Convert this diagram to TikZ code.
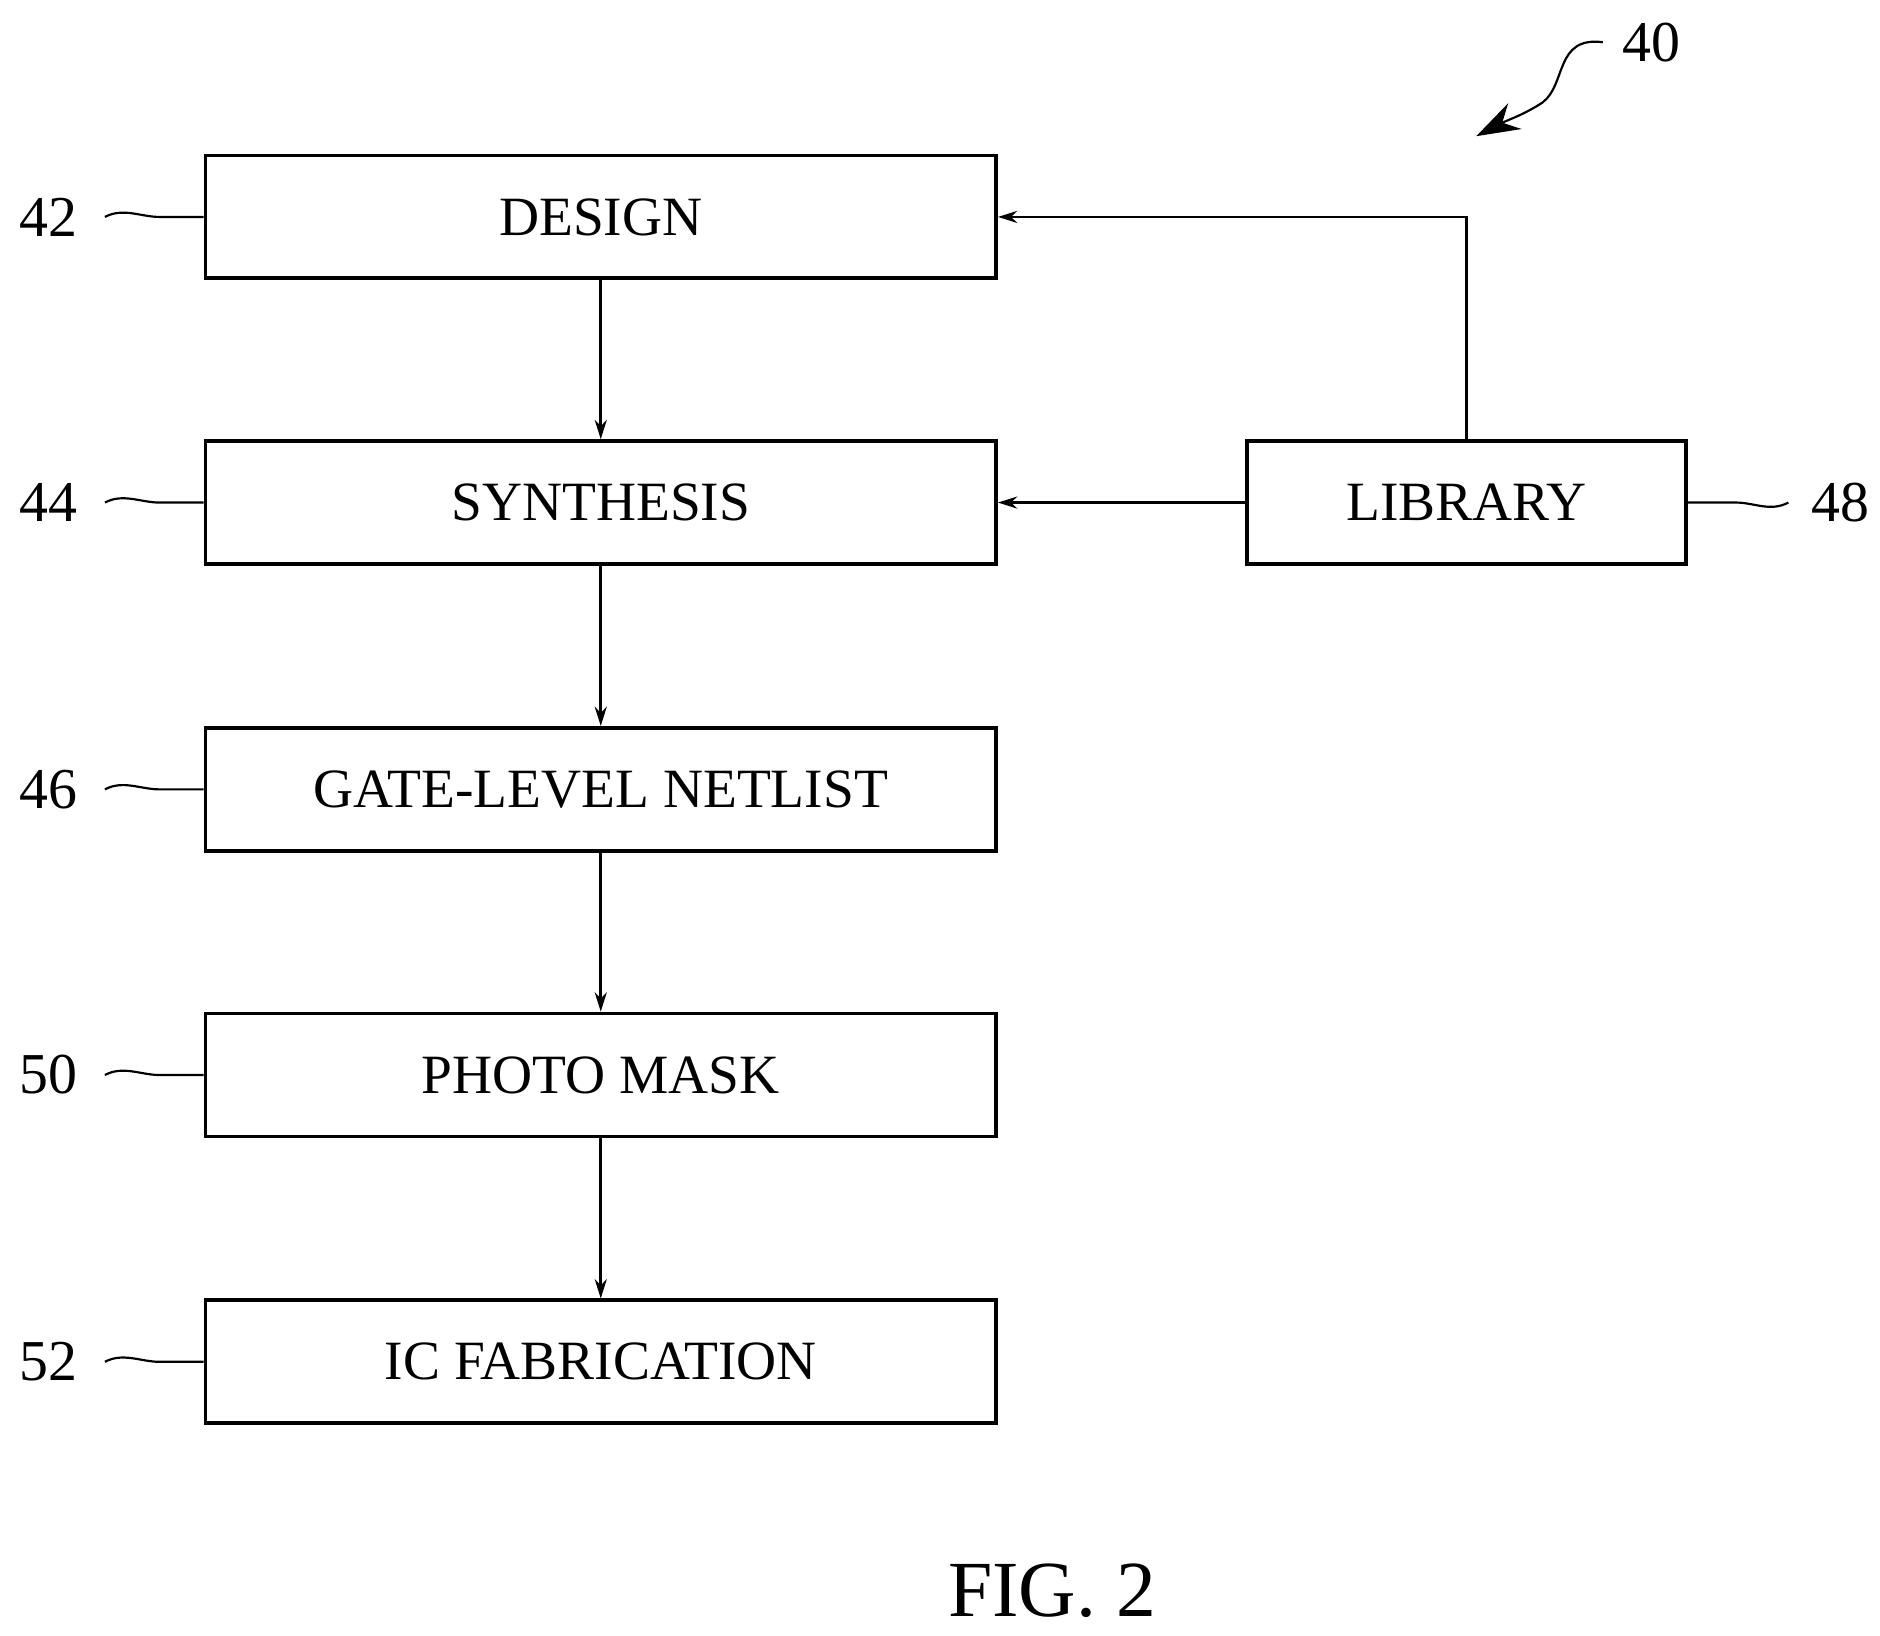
\documentclass[tikz,border=0pt]{standalone}
\usepackage{fontspec}
\setmainfont{Liberation Serif}
\usetikzlibrary{arrows.meta,calc}
\begin{document}
\begin{tikzpicture}[x=0.5pt,y=-0.5pt,
 box/.style={draw,line width=1.6pt,minimum width=328pt,minimum height=51pt,inner sep=0pt,font=\fontsize{23}{26}\selectfont},
 arr/.style={-{Stealth[length=8pt,width=5pt]},line width=1.1pt},
 lab/.style={font=\fontsize{24}{28}\selectfont},
 sq/.style={line width=0.9pt}]
\useasboundingbox (0,0) rectangle (1560,1357);
\node[box] (d) at (498.5,180) {DESIGN};
\node[box] (s) at (498.5,417) {SYNTHESIS};
\node[box] (g) at (498.5,655) {GATE-LEVEL NETLIST};
\node[box] (p) at (498.5,892) {PHOTO MASK};
\node[box] (i) at (498.5,1130) {IC FABRICATION};
\node[box,minimum width=182pt] (l) at (1217,417) {LIBRARY};
\draw[arr] (d) -- (s);
\draw[arr] (s) -- (g);
\draw[arr] (g) -- (p);
\draw[arr] (p) -- (i);
\draw[arr] (l) -- (s);
\draw[arr] (l.north) |- (d.east);
\foreach \n/\t/\y in {42/d/180,44/s/417,46/g/655,50/p/892,52/i/1130}{
 \node[lab] (n\n) at (40,\y) {\n};
 \draw[sq] ($(n\n.east)+(16,0)$) .. controls +(15,-8) and +(-15,0) .. +(45,0) .. controls +(15,0) and +(-15,0) .. (\t.west);
}
\node[lab] (n48) at (1527,417) {48};
\draw[sq] (l.east) .. controls +(15,0) and +(-15,0) .. +(40,0) .. controls +(15,0) and +(-15,8) .. ($(n48.west)+(-12,0)$);
\node[lab] (n40) at (1370,35) {40};
\coordinate (a40) at (1225,113);
\draw[sq,-{Stealth[length=18pt,width=12pt]}] (1330,35) .. controls (1290,30) and (1300,70) .. (1280,85) .. controls (1265,95) and (1250,100) .. (a40);
\node[font=\fontsize{33}{38}\selectfont] (fig) at (873,1320) {FIG. 2};
\end{tikzpicture}
\end{document}
